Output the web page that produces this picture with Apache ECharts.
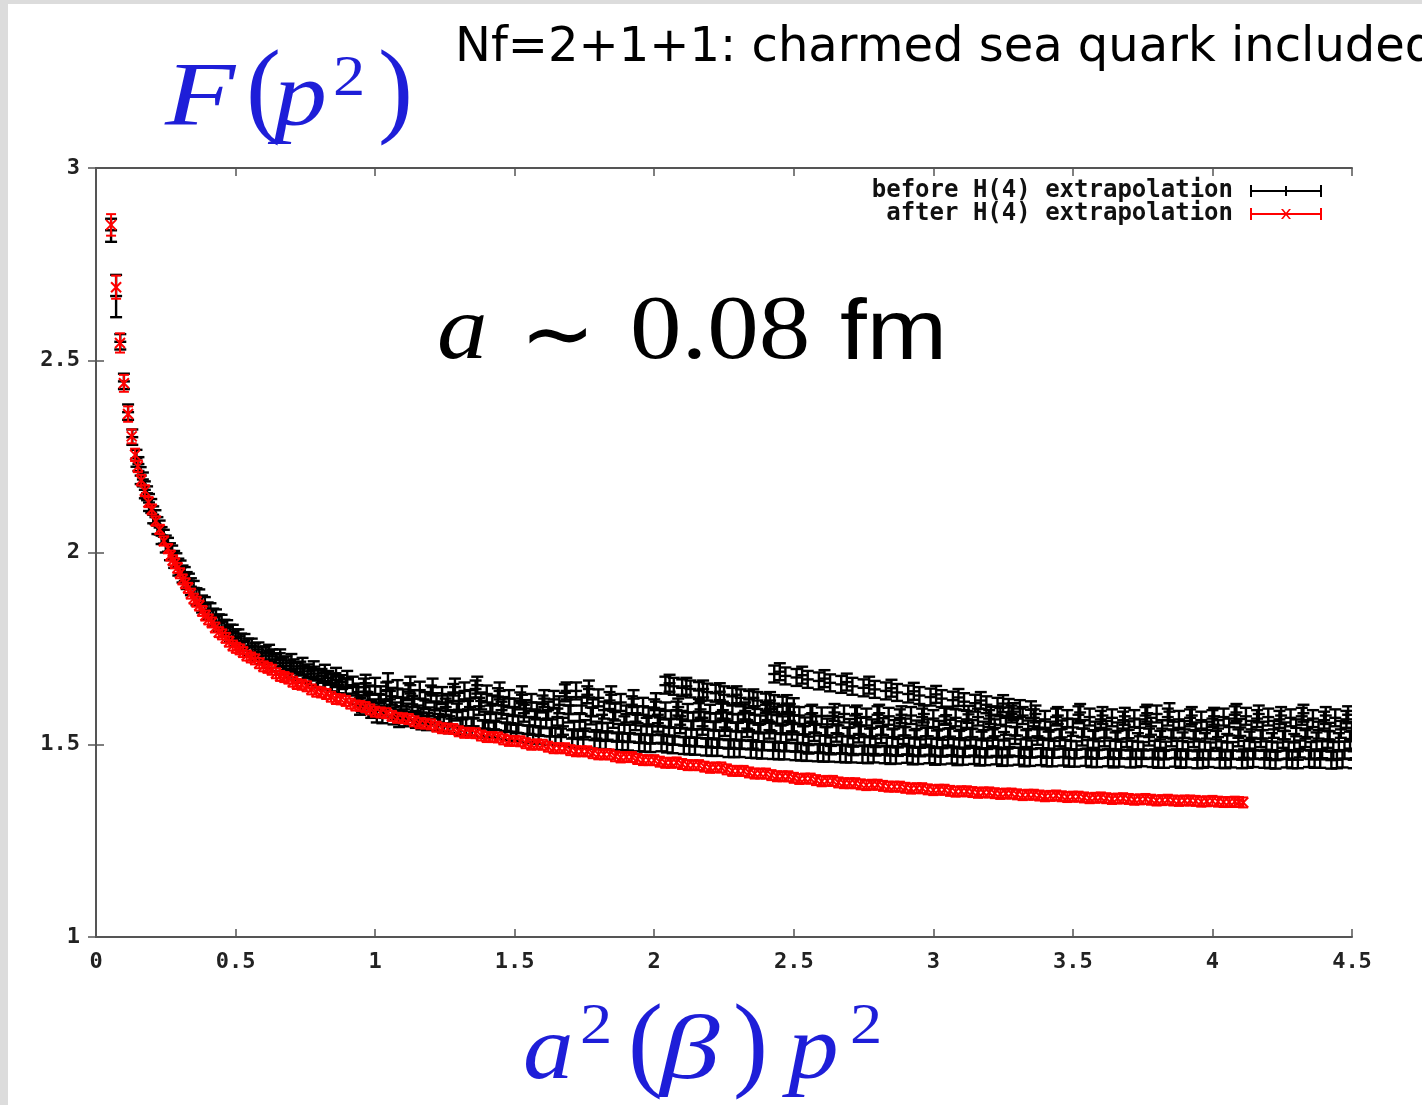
<!DOCTYPE html>
<html><head><meta charset="utf-8">
<script src="https://cdn.jsdelivr.net/npm/echarts@6/dist/echarts.min.js"></script>
<style>
html,body{margin:0;padding:0;background:#dcdcdc;overflow:hidden;}
#sheet{position:absolute;left:8px;top:4px;width:1414px;height:1101px;background:#fff;}
#chart{position:absolute;left:0;top:0;width:1422px;height:1105px;}
</style></head><body>
<div id="sheet"></div><div id="chart"></div>
<script>
// ---------------- data ----------------
var xTicks = [0, 4.5, 0.5];          // min, max, interval of x axis
var yTicks = [1, 3, 0.5];            // min, max, interval of y axis
var seriesNames = ['before H(4) extrapolation', 'after H(4) extrapolation'];
var BLACK_ERR = 0.022;
var RED_ERR = 0.013;

// "before": low-momentum part  [x, y, err]
var blackLow = [
 [0.054,2.838,0.03],[0.072,2.667,0.055],[0.087,2.548,0.02],[0.100,2.445,0.02],[0.115,2.365,0.02],
 [0.130,2.300,0.02],[0.145,2.245],[0.160,2.200],[0.175,2.163],[0.190,2.130],[0.205,2.098],
 [0.220,2.070],[0.235,2.044],[0.250,2.022],[0.265,2.002],[0.280,1.982],[0.295,1.962],
 [0.310,1.944],[0.325,1.927],[0.340,1.911],[0.360,1.885],[0.380,1.866],[0.400,1.848],
 [0.420,1.832],[0.440,1.817],[0.460,1.803],[0.480,1.790],[0.500,1.778],[0.520,1.767],
 [0.545,1.754],[0.570,1.742],[0.595,1.732],[0.620,1.722],[0.645,1.713],[0.670,1.705],
 [0.695,1.697],[0.720,1.690],[0.745,1.683],[0.770,1.677],[0.795,1.671],[0.820,1.666],
 [0.845,1.661],[0.870,1.656],[0.895,1.651],
 [0.620,1.738],[0.660,1.726],[0.700,1.714],[0.740,1.704],[0.780,1.695],[0.820,1.686],
 [0.860,1.678],[0.900,1.670]
];
var blackLow2 = [
 [0.152,2.230],[0.168,2.190],[0.183,2.154],[0.198,2.121],[0.213,2.092],[0.228,2.065],[0.243,2.041],
 [0.258,2.020],[0.273,2.000],[0.288,1.980],[0.303,1.961],[0.318,1.944],[0.333,1.927],[0.350,1.908],
 [0.370,1.886],[0.390,1.866],[0.410,1.850],[0.430,1.834],[0.450,1.820],[0.470,1.806],[0.490,1.794],
 [0.510,1.782],[0.532,1.770],[0.558,1.758],[0.582,1.748],[0.608,1.738],[0.632,1.730],[0.658,1.720],
 [0.682,1.712],[0.708,1.704],[0.732,1.698],[0.758,1.691],[0.782,1.685],[0.808,1.679],[0.832,1.674],
 [0.858,1.668],[0.882,1.663]
];

// "before": main band, rows of [x, upper, middle, lower]
var blackBand = [
 [0.92,1.655,1.628,1.600],[0.96,1.650,1.615,1.592],[1.00,1.652,1.610,1.578],[1.04,1.640,1.618,1.575],
 [1.08,1.646,1.600,1.570],[1.12,1.638,1.605,1.566],[1.16,1.642,1.596,1.560],[1.20,1.632,1.590,1.558],
 [1.24,1.628,1.598,1.552],[1.28,1.636,1.585,1.548],[1.32,1.640,1.592,1.546],[1.36,1.645,1.600,1.541],
 [1.40,1.632,1.580,1.540],[1.44,1.625,1.590,1.536],[1.48,1.620,1.575,1.531],[1.52,1.614,1.582,1.528],
 [1.56,1.610,1.570,1.525],[1.60,1.606,1.565,1.522],[1.64,1.618,1.572,1.520],[1.68,1.635,1.580,1.516],
 [1.72,1.640,1.560,1.514],[1.76,1.630,1.575,1.512],[1.80,1.622,1.556,1.510],[1.84,1.615,1.566,1.508],
 [1.88,1.610,1.552,1.507],[1.92,1.604,1.560,1.505],[1.96,1.600,1.548,1.503],[2.00,1.596,1.556,1.505],
 [2.04,1.588,1.545,1.500],[2.08,1.590,1.552,1.498],[2.12,1.584,1.540,1.496],[2.16,1.586,1.548,1.494],
 [2.20,1.582,1.538,1.493],[2.24,1.585,1.545,1.490],[2.28,1.580,1.535,1.490],[2.32,1.583,1.542,1.488],
 [2.36,1.578,1.530,1.486],[2.40,1.582,1.538,1.485],[2.44,1.577,1.528,1.484],[2.48,1.580,1.535,1.482],
 [2.52,1.576,1.526,1.480],[2.56,1.579,1.532,1.479],[2.60,1.575,1.524,1.478],[2.64,1.575,1.530,1.477],
 [2.68,1.580,1.522,1.476],[2.72,1.576,1.528,1.475],[2.76,1.572,1.520,1.476],[2.80,1.578,1.526,1.474],
 [2.84,1.574,1.518,1.473],[2.88,1.570,1.524,1.475],[2.92,1.576,1.516,1.472],[2.96,1.572,1.522,1.474],
 [3.00,1.568,1.515,1.471],[3.04,1.574,1.520,1.473],[3.08,1.570,1.514,1.470],[3.12,1.566,1.519,1.472],
 [3.16,1.572,1.512,1.469],[3.20,1.568,1.518,1.471],[3.24,1.574,1.511,1.468],[3.28,1.580,1.524,1.470],
 [3.32,1.576,1.516,1.467],[3.36,1.570,1.522,1.469],[3.40,1.566,1.512,1.466],[3.44,1.572,1.518,1.468],
 [3.48,1.568,1.510,1.465],[3.52,1.578,1.520,1.467],[3.56,1.572,1.514,1.464],[3.60,1.566,1.518,1.466],
 [3.64,1.570,1.510,1.465],[3.68,1.564,1.516,1.463],[3.72,1.568,1.508,1.466],[3.76,1.576,1.520,1.464],
 [3.80,1.580,1.514,1.462],[3.84,1.572,1.518,1.465],[3.88,1.566,1.510,1.463],[3.92,1.570,1.516,1.461],
 [3.96,1.564,1.508,1.464],[4.00,1.568,1.514,1.462],[4.04,1.572,1.506,1.463],[4.08,1.578,1.518,1.461],
 [4.12,1.574,1.512,1.464],[4.16,1.568,1.516,1.462],[4.20,1.572,1.508,1.460],[4.24,1.566,1.514,1.463],
 [4.28,1.570,1.506,1.461],[4.32,1.574,1.516,1.464],[4.36,1.568,1.510,1.462],[4.40,1.564,1.514,1.460],
 [4.44,1.570,1.508,1.463],[4.48,1.566,1.512,1.461]
];
var blackBand2 = [
 [0.94,1.637,1.606,1.660],[0.98,1.632,1.596,1.580],[1.02,1.630,1.592,1.664],[1.06,1.626,1.588,1.568],
 [1.10,1.622,1.585,1.655],[1.14,1.620,1.580,1.562],[1.18,1.615,1.575,1.650],[1.22,1.612,1.572,1.556],
 [1.26,1.610,1.568,1.650],[1.30,1.613,1.566,1.548],[1.34,1.620,1.570,1.655],[1.38,1.614,1.564,1.540],
 [1.42,1.606,1.560,1.640],[1.46,1.602,1.556,1.534],[1.50,1.598,1.552,1.630],[1.54,1.594,1.550,1.526],
 [1.58,1.588,1.545,1.620],[1.62,1.590,1.544,1.522],[1.66,1.604,1.548,1.640],[1.70,1.602,1.540,1.515],
 [1.74,1.602,1.542,1.645],[1.78,1.596,1.538,1.511],[1.82,1.590,1.535,1.630],[1.86,1.585,1.532,1.508],
 [1.90,1.580,1.530,1.620],[1.94,1.578,1.528,1.504],[1.98,1.575,1.526,1.612],[2.02,1.571,1.525,1.502],
 [2.06,1.567,1.522,1.598],[2.10,1.566,1.520,1.497],[2.14,1.562,1.518,1.592],[2.18,1.563,1.517,1.493],
 [2.22,1.559,1.514,1.590],[2.26,1.562,1.514,1.490],[2.30,1.557,1.511,1.588],[2.34,1.560,1.512,1.487],
 [2.38,1.554,1.508,1.586],[2.42,1.557,1.508,1.484],[2.46,1.552,1.505,1.584],[2.50,1.554,1.505,1.481],
 [2.54,1.549,1.499,1.582],[2.58,1.552,1.502,1.478],[2.62,1.546,1.497,1.584],[2.66,1.550,1.500,1.476],
 [2.70,1.545,1.495,1.580],[2.74,1.548,1.498,1.474],[2.78,1.544,1.494,1.582],[2.82,1.547,1.497,1.472],
 [2.86,1.542,1.493,1.578],[2.90,1.546,1.496,1.471],[2.94,1.541,1.492,1.580],[2.98,1.544,1.494,1.470],
 [3.02,1.540,1.491,1.577],[3.06,1.543,1.493,1.469],[3.10,1.539,1.490,1.579],[3.14,1.542,1.492,1.468],
 [3.18,1.538,1.489,1.576],[3.22,1.544,1.491,1.467],[3.26,1.548,1.494,1.586],[3.30,1.546,1.492,1.466],
 [3.34,1.541,1.489,1.580],[3.38,1.540,1.491,1.466],[3.42,1.538,1.488,1.576],[3.46,1.541,1.490,1.465],
 [3.50,1.545,1.487,1.584],[3.54,1.542,1.490,1.464],[3.58,1.538,1.487,1.576],[3.62,1.540,1.489,1.463],
 [3.66,1.536,1.486,1.574],[3.70,1.539,1.488,1.464],[3.74,1.544,1.485,1.582],[3.78,1.548,1.488,1.462],
 [3.82,1.542,1.486,1.586],[3.86,1.538,1.488,1.462],[3.90,1.540,1.485,1.576],[3.94,1.536,1.487,1.462],
 [3.98,1.538,1.484,1.574],[4.02,1.542,1.487,1.461],[4.06,1.546,1.485,1.584],[4.10,1.545,1.488,1.462],
 [4.14,1.540,1.485,1.580],[4.18,1.538,1.487,1.461],[4.22,1.540,1.484,1.576],[4.26,1.536,1.486,1.461],
 [4.30,1.544,1.489,1.582],[4.34,1.542,1.485,1.462],[4.38,1.538,1.487,1.576],[4.42,1.535,1.485,1.461],
 [4.46,1.540,1.486,1.578],[4.50,1.537,1.487,1.462]
];

// "before": two upper branches  [x, y]
var blackBranch1 = [
 [2.04,1.655],[2.07,1.652],[2.10,1.648],[2.13,1.645],[2.16,1.641],[2.19,1.637],[2.22,1.634],[2.25,1.630],
 [2.28,1.626],[2.31,1.622],[2.34,1.618],[2.37,1.615],[2.40,1.611],[2.43,1.607],[2.46,1.603],[2.50,1.599],
 [2.055,1.660],[2.115,1.652],[2.175,1.645],[2.235,1.638],[2.295,1.630],[2.355,1.622],[2.415,1.615],[2.475,1.607]
];
var blackBranch2 = [
 [2.43,1.684],[2.47,1.679],[2.51,1.675],[2.55,1.670],[2.59,1.666],[2.63,1.661],[2.67,1.657],[2.71,1.652],
 [2.75,1.648],[2.79,1.644],[2.83,1.640],[2.87,1.636],[2.91,1.632],[2.95,1.628],[2.99,1.624],[3.03,1.620],
 [3.07,1.616],[3.11,1.612],[3.15,1.608],[3.19,1.604],[3.23,1.600],[3.27,1.597],[3.31,1.594],[3.35,1.591],
 [2.45,1.690],[2.53,1.681],[2.61,1.672],[2.69,1.663],[2.77,1.655],[2.85,1.647],[2.93,1.639],[3.01,1.631],
 [3.09,1.623],[3.17,1.615],[3.25,1.607]
];

// "after": [x, y, err]
var redPts = [
 [0.054,2.852,0.028],[0.072,2.690,0.03],[0.086,2.545,0.025],[0.100,2.440,0.022],[0.115,2.360,0.02],
 [0.128,2.302,0.018],[0.140,2.254,0.016],[0.150,2.224,0.015],[0.162,2.188,0.014],[0.175,2.161,0.014],
 [0.188,2.131,0.013],[0.200,2.112,0.013],[0.214,2.082,0.012],[0.228,2.060,0.012],[0.243,2.030,0.012],
 [0.258,2.010,0.012],[0.275,1.980],[0.292,1.960],[0.310,1.930],[0.330,1.908],[0.350,1.880],[0.370,1.862],
 [0.392,1.836],[0.415,1.818],[0.440,1.793],[0.465,1.778],[0.490,1.758],[0.515,1.748],[0.540,1.732],
 [0.570,1.722],[0.600,1.704],[0.630,1.695],[0.660,1.679],[0.690,1.672],[0.720,1.658],[0.755,1.652],
 [0.790,1.638],[0.825,1.632],[0.860,1.619],[0.895,1.614],[0.930,1.602],[0.965,1.598],[1.000,1.586],
 [1.040,1.582],[1.080,1.570],[1.120,1.567],[1.160,1.556],[1.200,1.553],[1.240,1.543],[1.280,1.541],
 [1.320,1.531],[1.360,1.530],[1.400,1.520],[1.440,1.519],[1.480,1.510],[1.520,1.509],[1.560,1.500],
 [1.600,1.500],[1.640,1.491],[1.680,1.491],[1.720,1.483],[1.760,1.483],[1.800,1.475],[1.840,1.475],
 [1.880,1.467],[1.920,1.468],[1.960,1.460],[2.000,1.460],[2.040,1.453],[2.080,1.454],[2.120,1.447],
 [2.160,1.447],[2.200,1.440],[2.240,1.441],[2.280,1.432],[2.320,1.432],[2.360,1.425],[2.400,1.425],
 [2.440,1.418],[2.480,1.418],[2.520,1.411],[2.560,1.412],[2.600,1.405],[2.640,1.406],[2.680,1.400],
 [2.720,1.400],[2.760,1.395],[2.800,1.396],[2.840,1.391],[2.880,1.391],[2.920,1.386],[2.960,1.387],
 [3.000,1.382],[3.040,1.383],[3.080,1.378],[3.120,1.379],[3.160,1.375],[3.200,1.376],[3.240,1.372],
 [3.280,1.373],[3.320,1.369],[3.360,1.370],[3.400,1.366],[3.440,1.368],[3.480,1.364],[3.520,1.365],
 [3.560,1.361],[3.600,1.363],[3.640,1.359],[3.680,1.361],[3.720,1.357],[3.760,1.359],[3.800,1.355],
 [3.840,1.357],[3.880,1.354],[3.920,1.355],[3.960,1.352],[4.000,1.354],[4.040,1.351],[4.080,1.352],
 [4.110,1.350]
];
var redPts2 = [
 [0.267,1.992],[0.283,1.972],[0.301,1.946],[0.320,1.920],[0.340,1.893],[0.360,1.872],[0.381,1.848],
 [0.403,1.826],[0.427,1.805],[0.452,1.787],[0.477,1.768],[0.502,1.752],[0.527,1.741],[0.555,1.727],
 [0.585,1.712],[0.615,1.700],[0.645,1.686],[0.675,1.676],[0.705,1.664],[0.737,1.656],[0.772,1.644],
 [0.807,1.636],[0.842,1.625],[0.877,1.618],[0.912,1.607],[0.947,1.601],[0.982,1.592],[1.020,1.584],
 [1.060,1.575],[1.100,1.569],[1.140,1.561],[1.180,1.555],[1.220,1.547],[1.260,1.542],[1.300,1.535],
 [1.340,1.531],[1.380,1.524],[1.420,1.520],[1.460,1.514],[1.500,1.510],[1.540,1.504],[1.580,1.501],
 [1.620,1.495],[1.660,1.491],[1.700,1.486],[1.740,1.483],[1.780,1.478],[1.820,1.475],[1.860,1.470],
 [1.900,1.468],[1.940,1.463],[1.980,1.460],[2.020,1.456],[2.060,1.453],[2.100,1.450],[2.140,1.447],
 [2.180,1.443],[2.220,1.441],[2.260,1.436],[2.300,1.432],[2.340,1.428],[2.380,1.425],[2.420,1.421],
 [2.460,1.418],[2.500,1.414],[2.540,1.412],[2.580,1.408],[2.620,1.406],[2.660,1.402],[2.700,1.400],
 [2.740,1.397],[2.780,1.396],[2.820,1.393],[2.860,1.391],[2.900,1.388],[2.940,1.387],[2.980,1.384],
 [3.020,1.383],[3.060,1.380],[3.100,1.379],[3.140,1.377],[3.180,1.376],[3.220,1.374],[3.260,1.373],
 [3.300,1.371],[3.340,1.370],[3.380,1.368],[3.420,1.367],[3.460,1.366],[3.500,1.365],[3.540,1.363],
 [3.580,1.362],[3.620,1.361],[3.660,1.360],[3.700,1.359],[3.740,1.358],[3.780,1.357],[3.820,1.356],
 [3.860,1.355],[3.900,1.355],[3.940,1.354],[3.980,1.353],[4.020,1.352],[4.060,1.351],[4.095,1.351]
];

// ---------------- build series data ----------------
function withErr(list, def) {
  return list.map(function (p) { return [p[0], p[1], p.length > 2 ? p[2] : def]; });
}
function fromBand(rows) {
  var out = [];
  rows.forEach(function (r) {
    out.push([r[0], r[1], BLACK_ERR], [r[0] + 0.013, r[2], BLACK_ERR], [r[0] + 0.026, r[3], BLACK_ERR]);
  });
  return out;
}
var blackData = [].concat(withErr(blackLow, BLACK_ERR), withErr(blackLow2, 0.018), fromBand(blackBand), fromBand(blackBand2),
  withErr(blackBranch1, BLACK_ERR), withErr(blackBranch2, BLACK_ERR));
var redData = [].concat(withErr(redPts, RED_ERR), withErr(redPts2, RED_ERR));

function errRender(color, marker, lw) {
  return function (params, api) {
    var x = api.value(0), y = api.value(1), e = api.value(2);
    var c = api.coord([x, y]), t = api.coord([x, y + e]), b = api.coord([x, y - e]);
    var w = marker === 'plus' ? 6 : 5;
    var st = { stroke: color, lineWidth: lw, fill: null };
    var ch = [
      { type: 'line', shape: { x1: c[0], y1: t[1], x2: c[0], y2: b[1] }, style: st },
      { type: 'line', shape: { x1: c[0] - w, y1: t[1], x2: c[0] + w, y2: t[1] }, style: st },
      { type: 'line', shape: { x1: c[0] - w, y1: b[1], x2: c[0] + w, y2: b[1] }, style: st }
    ];
    if (marker === 'plus') {
      ch.push({ type: 'line', shape: { x1: c[0] - w, y1: c[1], x2: c[0] + w, y2: c[1] }, style: st });
    } else {
      var m = 5;
      ch.push({ type: 'line', shape: { x1: c[0] - m, y1: c[1] - m, x2: c[0] + m, y2: c[1] + m }, style: st });
      ch.push({ type: 'line', shape: { x1: c[0] - m, y1: c[1] + m, x2: c[0] + m, y2: c[1] - m }, style: st });
    }
    return { type: 'group', children: ch };
  };
}

var iconBlack = 'path://M0,5L72,5L72,7L0,7Z M0,0L2,0L2,12L0,12Z M70,0L72,0L72,12L70,12Z M35,1L37,1L37,11L35,11Z';
var iconRed = 'path://M0,5L72,5L72,7L0,7Z M0,0L2,0L2,12L0,12Z M70,0L72,0L72,12L70,12Z M31,1L33,1L41,11L39,11Z M39,1L41,1L33,11L31,11Z';

var frame = { show: true, lineStyle: { color: '#555', width: 2 } };
var tickIn = { show: true, inside: true, length: 8, lineStyle: { color: '#555', width: 1.5 } };
var labFont = { fontFamily: 'DejaVu Sans Mono', fontWeight: 'bold', fontSize: 22, color: '#222' };
var BLUE = '#1e1ed8';

function txt(s, x, y, font, fill, sx) {
  return { type: 'text', x: x, y: y, scaleX: sx || 1, z: 10,
    style: { text: s, font: font, fill: fill, align: 'left', verticalAlign: 'middle', textAlign: 'left', textVerticalAlign: 'middle' } };
}
var SERIF = '"Liberation Serif"';

var chart = echarts.init(document.getElementById('chart'), null, { renderer: 'canvas' });
chart.setOption({
  backgroundColor: 'transparent',
  animation: false,
  grid: { left: 96, right: 70, top: 168, bottom: 168, containLabel: false },
  xAxis: [
    { type: 'value', min: xTicks[0], max: xTicks[1], interval: xTicks[2], position: 'bottom',
      axisLine: frame, axisTick: tickIn, splitLine: { show: false },
      axisLabel: Object.assign({ margin: 14 }, labFont) },
    { type: 'value', min: xTicks[0], max: xTicks[1], interval: xTicks[2], position: 'top',
      axisLine: frame, axisTick: tickIn, splitLine: { show: false }, axisLabel: { show: false } }
  ],
  yAxis: [
    { type: 'value', min: yTicks[0], max: yTicks[1], interval: yTicks[2], position: 'left',
      axisLine: frame, axisTick: tickIn, splitLine: { show: false },
      axisLabel: Object.assign({ margin: 16 }, labFont) },
    { type: 'value', min: yTicks[0], max: yTicks[1], interval: yTicks[2], position: 'right',
      axisLine: frame, axisTick: tickIn, splitLine: { show: false }, axisLabel: { show: false } }
  ],
  legend: [
    { data: [{ name: seriesNames[0], icon: iconBlack }], right: 100, top: 179, padding: 0, align: 'right',
      itemWidth: 72, itemHeight: 12, selectedMode: false,
      textStyle: { fontFamily: 'DejaVu Sans Mono', fontWeight: 'bold', fontSize: 24, color: '#111', padding: [0, 12, 0, 0] } },
    { data: [{ name: seriesNames[1], icon: iconRed }], right: 100, top: 202, padding: 0, align: 'right',
      itemWidth: 72, itemHeight: 12, selectedMode: false,
      textStyle: { fontFamily: 'DejaVu Sans Mono', fontWeight: 'bold', fontSize: 24, color: '#111', padding: [0, 12, 0, 0] } }
  ],
  graphic: [
    txt('Nf=2+1+1: charmed sea quark included', 455, 49, '48px "DejaVu Sans"', '#000'),
    // F(p^2)
    txt('F', 165, 101, 'italic 92px ' + SERIF, BLUE, 1.25),
    txt('(', 246, 95, '105px ' + SERIF, BLUE),
    txt('p', 274, 101, 'italic 92px ' + SERIF, BLUE, 1.15),
    txt('2', 333, 80, '56px ' + SERIF, BLUE, 1.15),
    txt(')', 378, 95, '105px ' + SERIF, BLUE),
    // a ~ 0.08 fm
    txt('a', 437, 334, 'italic 92px ' + SERIF, '#000', 1.1),
    txt('\u223C', 520, 341, '90px "DejaVu Sans"', '#000'),
    txt('0.08', 630, 334, '92px ' + SERIF, '#000', 1.12),
    txt('fm', 840, 335, '86px "Liberation Sans"', '#000', 1.12),
    // a^2(beta) p^2
    txt('a', 523, 1054, 'italic 92px ' + SERIF, BLUE, 1.1),
    txt('2', 580, 1028, '56px ' + SERIF, BLUE, 1.15),
    txt('(', 628, 1049, '105px ' + SERIF, BLUE),
    txt('\u03B2', 660, 1054, 'italic 92px ' + SERIF, BLUE, 1.3),
    txt(')', 733, 1049, '105px ' + SERIF, BLUE),
    txt('p', 788, 1054, 'italic 92px ' + SERIF, BLUE, 1.1),
    txt('2', 850, 1028, '56px ' + SERIF, BLUE, 1.15)
  ],
  series: [
    { type: 'custom', name: seriesNames[0], xAxisIndex: 0, yAxisIndex: 0, data: blackData,
      encode: { x: 0, y: 1 }, renderItem: errRender('#000', 'plus', 2.4), itemStyle: { color: '#000' }, clip: true, z: 2 },
    { type: 'custom', name: seriesNames[1], xAxisIndex: 0, yAxisIndex: 0, data: redData,
      encode: { x: 0, y: 1 }, renderItem: errRender('#ff0000', 'cross', 2), itemStyle: { color: '#ff0000' }, clip: true, z: 3 }
  ]
});
</script></body></html>
